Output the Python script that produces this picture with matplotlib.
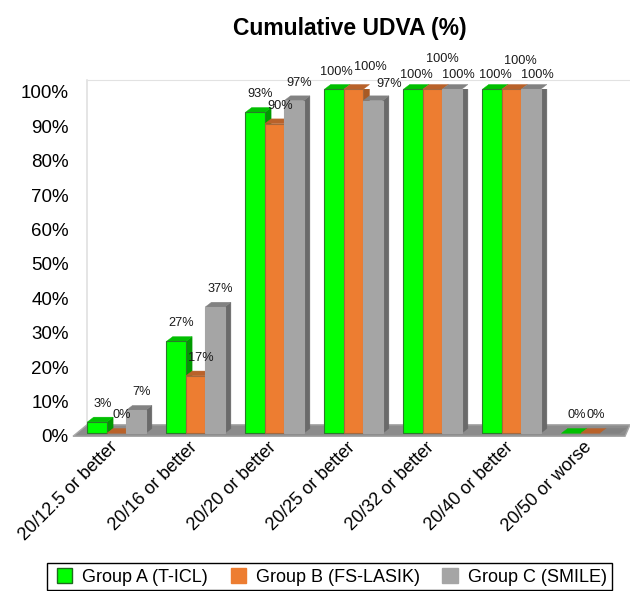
import matplotlib
matplotlib.use('Agg')
import matplotlib.pyplot as plt
from matplotlib.patches import Patch, Polygon, Rectangle
from matplotlib.transforms import ScaledTranslation

plt.rcParams['font.family'] = ['Liberation Sans', 'DejaVu Sans']

categories = ['20/12.5 or better', '20/16 or better', '20/20 or better', '20/25 or better',
              '20/32 or better', '20/40 or better', '20/50 or worse']
group_a = [3.3, 26.7, 93.3, 100, 100, 100, 0]
group_b = [0, 16.7, 90, 100, 100, 100, 0]
group_c = [6.7, 36.7, 96.7, 96.7, 100, 100, 0]
series_names = ['Group A (T-ICL)', 'Group B (FS-LASIK)', 'Group C (SMILE)']
yticks = list(range(0, 101, 10))

# front, top, side, edge
colors = [('#00ff00', '#00bf00', '#009a00', '#2a7a2a'),
          ('#ed7d31', '#b9622a', '#a85a24', '#a5683c'),
          ('#a5a5a5', '#828282', '#6a6a6a', '#a5a5a5')]

W, H = 630, 591
fig = plt.figure(figsize=(W / 100, H / 100), dpi=100)
left, right, top, bottom = 77, 630, 89.3, 433.3
ax = fig.add_axes([left / W, 1 - bottom / H, (right - left) / W, (bottom - top) / H])
ax.set_xlim(-0.5, 6.5)
ax.set_ylim(0, 100)
for s in ax.spines.values():
    s.set_visible(False)

px_x = 7 / (right - left)
px_y = 100 / (bottom - top)
dx, dy = 6.3 * px_x, 4.8 * px_y

# floor and back wall, in pixel-ish offsets from the plot area
floor = Polygon([(-0.5 - 4 * px_x, -3 * px_y), (-0.5 + 10 * px_x, 8.5 * px_y),
                 (6.5, 8.5 * px_y), (6.5 - 5 * px_x, -3 * px_y)],
                closed=True, fc='#8c8c8c', ec='#a8a8a8', lw=1, zorder=1, clip_on=False)
ax.add_patch(floor)
ax.plot([-0.5 + 10 * px_x] * 2, [8.5 * px_y, 100 + 9.3 * px_y], color='#dedede', lw=1.1, zorder=0, clip_on=False)
ax.plot([-0.5 + 10 * px_x, 6.5], [100 + 9.3 * px_y] * 2, color='#e2e2e2', lw=0.8, zorder=0, clip_on=False)

bar_w = 19.4 * px_x
z = 2
for i in range(len(categories)):
    for j, vals in enumerate([group_a, group_b, group_c]):
        v = vals[i]
        x0 = i + (j - 1.5) * bar_w
        x1 = x0 + bar_w
        front, topc, side, edge = colors[j]
        if v > 0:
            ax.add_patch(Polygon([(x1, 0), (x1 + dx, dy), (x1 + dx, v + dy), (x1, v)], fc=side, ec=side, lw=0.3, zorder=z))
        ax.add_patch(Polygon([(x0, v), (x0 + dx, v + dy), (x1 + dx, v + dy), (x1, v)], fc=topc, ec=topc, lw=0.3, zorder=z + 1, clip_on=False))
        if v > 0:
            ax.bar(x0, v, width=bar_w, align='edge', color=front, edgecolor=edge, linewidth=0.8, zorder=z + 2, clip_on=False)
        z += 3

# label nudges in px where the original labels were moved around
nudge = {(3, 0): (2, 17), (3, 1): (17, 22), (3, 2): (16, 17),
         (4, 0): (3, 14), (4, 1): (9.5, 30), (4, 2): (6, 14),
         (5, 0): (3, 14), (5, 1): (9, 28), (5, 2): (6, 14)}
for i in range(len(categories)):
    for j, vals in enumerate([group_a, group_b, group_c]):
        if i == 6 and j == 2:
            continue
        v = vals[i]
        xc = i + (j - 1) * bar_w
        off = nudge.get((i, j), (5.5, 18))
        ax.annotate(f'{v:.0f}%', (xc, v), xytext=(off[0] * 0.72, off[1] * 0.72), textcoords='offset points',
                    ha='center', va='center', fontsize=9.2, color='#1a1a1a', zorder=2000, annotation_clip=False)

ax.set_yticks(yticks)
ax.set_yticklabels([f'{t}%' for t in yticks], fontsize=13.5, color='black')
ax.tick_params(axis='y', length=0, pad=6)
for lab in ax.get_yticklabels():
    lab.set_transform(lab.get_transform() + ScaledTranslation(0, -1.8 / 72, fig.dpi_scale_trans))

ax.set_xticks(range(len(categories)))
ax.set_xticklabels(categories, rotation=45, ha='right', rotation_mode='anchor', fontsize=13)
ax.tick_params(axis='x', length=0, pad=4)
for lab in ax.get_xticklabels():
    lab.set_transform(lab.get_transform() + ScaledTranslation(-5 / 72, 0, fig.dpi_scale_trans))

fig.text(350 / W, 1 - 28 / H, 'Cumulative UDVA (%)', ha='center', va='center', fontsize=16.5, fontweight='bold')

# legend frame runs off the bottom edge in the original
fig.add_artist(Rectangle((47 / W, 1 - 590 / H), 565 / W, 27 / H, transform=fig.transFigure,
                         fc='white', ec='black', lw=1))
handles = [Patch(fc=colors[0][0], ec='#1d6b1d', lw=1), Patch(fc=colors[1][0], ec=colors[1][0]),
           Patch(fc=colors[2][0], ec=colors[2][0])]
fig.legend(handles, series_names, ncol=3, loc='center left', bbox_to_anchor=(57 / W, 1 - 577 / H), fontsize=13,
           frameon=False, handlelength=0.85, handleheight=0.85, handletextpad=0.55, columnspacing=1.25,
           borderpad=0, borderaxespad=0)

fig.savefig('out.png', dpi=100)
